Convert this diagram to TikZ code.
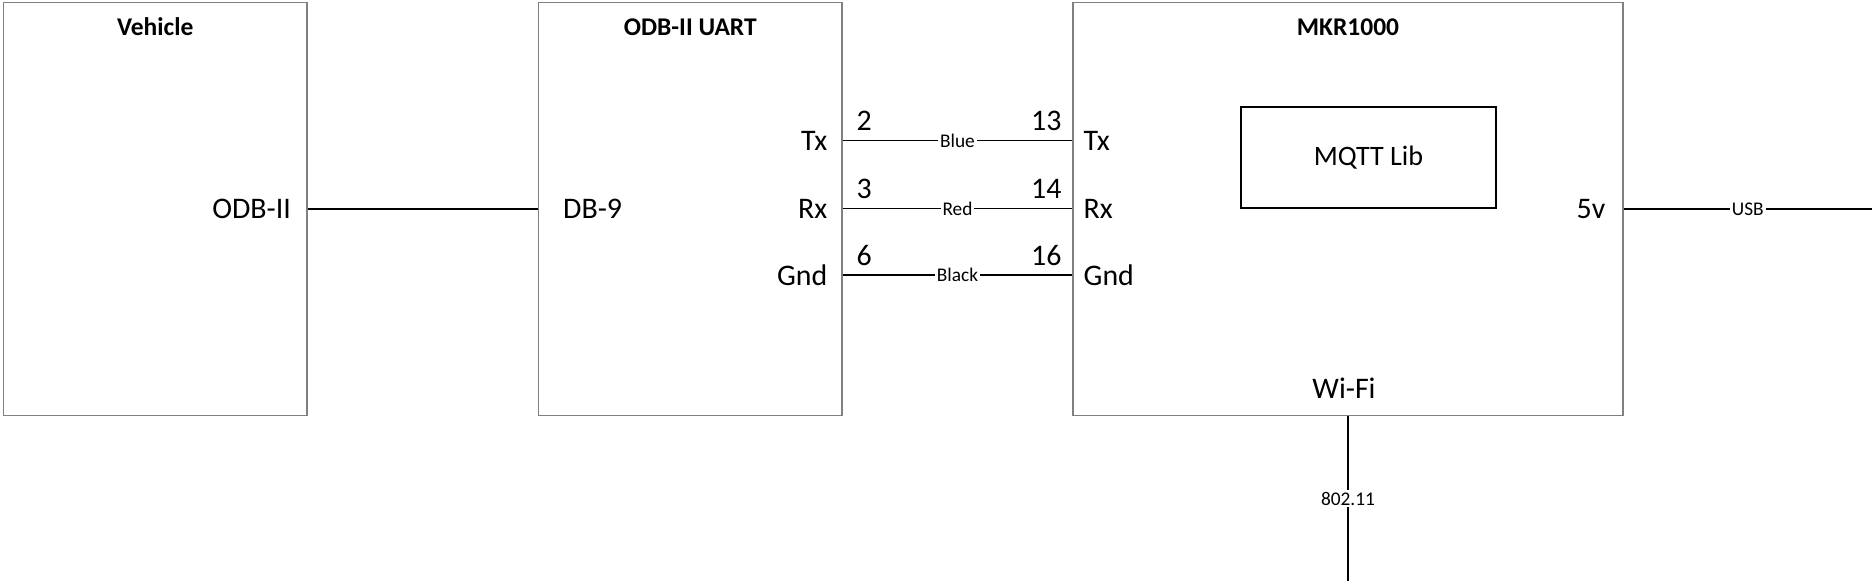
\documentclass[tikz,border=0pt]{standalone}
\usepackage{fontspec}
\setmainfont{Carlito}
\begin{document}
\begin{tikzpicture}[
    every node/.style={align=center},
    unit/.style={rectangle, draw=black!50, line width=0.75pt, minimum height=8.26cm, inner sep=0pt},
    lib/.style={rectangle, draw=black, line width=0.6pt, minimum width=5.1cm, minimum height=2.02cm, font=\fontsize{16}{19}\selectfont},
    title/.style={font=\bfseries\fontsize{14.5}{17}\selectfont, inner sep=0pt, anchor=base},
    port/.style={font=\fontsize{17}{20}\selectfont, inner sep=0pt},
    num/.style={font=\fontsize{17}{20}\selectfont, inner sep=0pt},
    tag/.style={font=\fontsize{11}{13}\selectfont, fill=white, inner sep=1pt},
    wire/.style={line width=0.95pt, black}
]
\useasboundingbox (0,0) rectangle (37.44,-11.62);
\node[unit, minimum width=6.07cm] (veh)  at (3.106, -4.18) {};
\node[unit, minimum width=6.07cm] (uart) at (13.805, -4.18) {};
\node[unit, minimum width=11.0cm] (mkr)  at (26.96, -4.18) {};
\node[lib] (mqtt) at (27.37, -3.15) {MQTT Lib};
\node[title, yshift=-0.68cm] (vehname)  at (veh.north)  {Vehicle};
\node[title, yshift=-0.68cm] (uartname) at (uart.north) {ODB-II UART};
\node[title, yshift=-0.68cm] (mkrname)  at (mkr.north)  {MKR1000};
\node[port, anchor=east, xshift=-0.33cm] (obd) at (veh.east) {ODB-II};
\node[port, anchor=west, xshift=0.5cm] (db9) at (uart.west) {DB-9};
\node[port, anchor=east, xshift=-0.3cm] (utx)  at (uart.east |- 0,-2.81) {Tx};
\node[port, anchor=east, xshift=-0.3cm] (urx)  at (uart.east |- 0,-4.17) {Rx};
\node[port, anchor=east, xshift=-0.3cm] (ugnd) at (uart.east |- 0,-5.50) {Gnd};
\node[port, anchor=west, xshift=0.22cm] (mtx)  at (mkr.west |- utx)  {Tx};
\node[port, anchor=west, xshift=0.22cm] (mrx)  at (mkr.west |- urx)  {Rx};
\node[port, anchor=west, xshift=0.22cm] (mgnd) at (mkr.west |- ugnd) {Gnd};
\node[port, anchor=east, xshift=-0.36cm] (pwr) at (mkr.east) {5v};
\node[port, anchor=base, xshift=-0.08cm, yshift=0.35cm] (wifi) at (mkr.south) {Wi-Fi};
\coordinate (usbend) at (37.44, -4.18);
\coordinate (airend) at (26.96, -11.62);
\draw[wire] (veh.east) -- (uart.west);
\draw[wire] (uart.east |- utx) -- node[num, pos=0, anchor=base west, xshift=0.26cm, yshift=0.2cm] {2}
    node[num, pos=1, anchor=base east, xshift=-0.2cm, yshift=0.2cm] {13} node[tag] {Blue} (mkr.west |- utx);
\draw[wire] (uart.east |- urx) -- node[num, pos=0, anchor=base west, xshift=0.26cm, yshift=0.2cm] {3}
    node[num, pos=1, anchor=base east, xshift=-0.2cm, yshift=0.2cm] {14} node[tag] {Red} (mkr.west |- urx);
\draw[wire] (uart.east |- ugnd) -- node[num, pos=0, anchor=base west, xshift=0.26cm, yshift=0.2cm] {6}
    node[num, pos=1, anchor=base east, xshift=-0.2cm, yshift=0.2cm] {16} node[tag] {Black} (mkr.west |- ugnd);
\draw[wire] (mkr.east) -- node[tag] {USB} (usbend);
\draw[wire] (mkr.south) -- node[tag] {802.11} (airend);
\end{tikzpicture}
\end{document}
